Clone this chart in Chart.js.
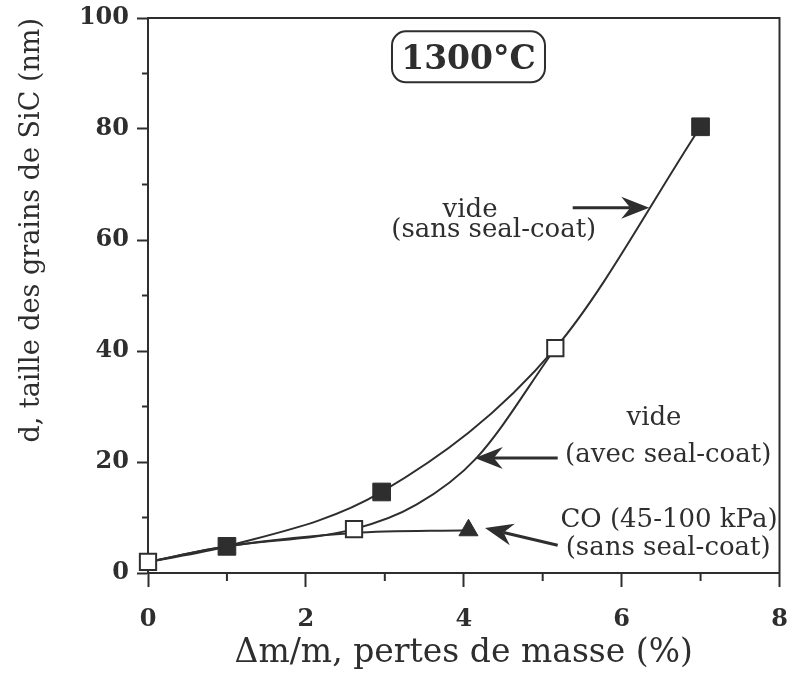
<!DOCTYPE html>
<html><head><meta charset="utf-8">
<script src="https://cdn.jsdelivr.net/npm/chart.js@4/dist/chart.umd.min.js"></script>
<style>html,body{margin:0;padding:0;background:#fff;}canvas{display:block;}</style>
</head><body>
<canvas id="c" width="793" height="674"></canvas>
<script>
// ---- data ----
const xTickLabels = ['0', '2', '4', '6', '8'];
const yTickLabels = ['0', '20', '40', '60', '80', '100'];
const xMinor = [1, 3, 5, 7];
const yMinor = [10, 30, 50, 70, 90];

// vide (sans seal-coat) : filled squares
const sansX = [0, 1, 2.96, 5.16, 7];
const sansY = [2, 4.8, 14.6, 40.5, 80.4];
const sansMark = [0, 1, 1, 0, 1];

// vide (avec seal-coat) : open squares (extra points)
const avecX = [0, 1, 2.61, 3.4, 4.16, 5.16];
const avecY = [2, 4.8, 7.9, 12.3, 20.7, 40.5];
const avecMark = [1, 0, 1, 0, 0, 1];

// CO (45-100 kPa) (sans seal-coat) : filled triangle
const coX = [0, 1, 2.6, 4.06];
const coY = [2, 4.8, 7.2, 7.7];
const coMark = [0, 0, 0, 1];

const INK = '#2e2e2e';
const SERIF = '"DejaVu Serif", "Liberation Serif", serif';

function pts(xs, ys) { return xs.map((x, i) => ({x: x, y: ys[i]})); }

function arrow(ctx, x0, y0, x1, y1) {
  const dx = x1 - x0, dy = y1 - y0, L = Math.hypot(dx, dy);
  const ux = dx / L, uy = dy / L, px = -uy, py = ux;
  const hl = 28, hw = 11, notch = 19;
  ctx.beginPath();
  ctx.lineWidth = 3;
  ctx.moveTo(x0, y0);
  ctx.lineTo(x1 - ux * notch, y1 - uy * notch);
  ctx.stroke();
  ctx.beginPath();
  ctx.moveTo(x1, y1);
  ctx.lineTo(x1 - ux * hl + px * hw, y1 - uy * hl + py * hw);
  ctx.lineTo(x1 - ux * notch, y1 - uy * notch);
  ctx.lineTo(x1 - ux * hl - px * hw, y1 - uy * hl - py * hw);
  ctx.closePath();
  ctx.fill();
}

const decor = {
  id: 'decor',
  afterDraw(chart) {
    const ctx = chart.ctx, a = chart.chartArea, xs = chart.scales.x, ys = chart.scales.y;
    const X = v => xs.getPixelForValue(v), Y = v => ys.getPixelForValue(v);
    ctx.save();
    ctx.strokeStyle = INK; ctx.fillStyle = INK; ctx.lineWidth = 2;
    // frame top/right
    ctx.beginPath();
    ctx.moveTo(a.left - 1, a.top); ctx.lineTo(a.right, a.top); ctx.lineTo(a.right, a.bottom + 1);
    ctx.stroke();
    // minor ticks
    ctx.beginPath();
    xMinor.forEach(v => { ctx.moveTo(X(v), a.bottom); ctx.lineTo(X(v), a.bottom + 8); });
    yMinor.forEach(v => { ctx.moveTo(a.left, Y(v)); ctx.lineTo(a.left - 6, Y(v)); });
    ctx.stroke();

    // 1300°C box
    const bx = X(4.06), by = Y(93.0), bw = 153, bh = 51;
    ctx.beginPath();
    ctx.roundRect(bx - bw / 2, by - bh / 2, bw, bh, 14);
    ctx.lineWidth = 2; ctx.stroke();
    ctx.font = 'bold 33px ' + SERIF;
    ctx.textAlign = 'center'; ctx.textBaseline = 'middle';
    ctx.fillText('1300°C', bx, Y(92.3));

    // annotations
    ctx.font = '26px ' + SERIF;
    ctx.textBaseline = 'alphabetic';
    ctx.fillText('vide', X(4.08), Y(64.1));
    ctx.fillText('(sans seal-coat)', X(4.38), Y(60.5));
    ctx.fillText('vide', X(6.41), Y(26.7));
    ctx.fillText('(avec seal-coat)', X(6.59), Y(20.0));
    ctx.fillText('CO (45-100 kPa)', X(6.60), Y(8.3));
    ctx.fillText('(sans seal-coat)', X(6.59), Y(3.2));

    arrow(ctx, X(5.38), Y(65.8), X(6.35), Y(65.8));
    arrow(ctx, X(5.19), Y(20.7), X(4.14), Y(20.7));
    arrow(ctx, X(5.19), Y(5.0), X(4.27), Y(8.1));
    ctx.restore();
  }
};

const tickFont = {family: SERIF, size: 24, weight: 'bold'};

new Chart(document.getElementById('c'), {
  type: 'scatter',
  data: {
    datasets: [
      {
        label: 'vide (avec seal-coat)', order: 0,
        data: pts(avecX, avecY), showLine: true, cubicInterpolationMode: 'monotone',
        borderColor: INK, borderWidth: 2, clip: false,
        pointStyle: 'rect', pointRadius: avecMark.map(m => m ? 11.5 : 0),
        pointBackgroundColor: '#fff', pointBorderColor: INK, pointBorderWidth: 2
      },
      {
        label: 'vide (sans seal-coat)', order: 1,
        data: pts(sansX, sansY), showLine: true, cubicInterpolationMode: 'monotone',
        borderColor: INK, borderWidth: 2, clip: false,
        pointStyle: 'rect', pointRadius: sansMark.map(m => m ? 12.5 : 0),
        pointBackgroundColor: INK, pointBorderColor: INK, pointBorderWidth: 1
      },
      {
        label: 'CO (45-100 kPa) (sans seal-coat)', order: 2,
        data: pts(coX, coY), showLine: true, cubicInterpolationMode: 'monotone',
        borderColor: INK, borderWidth: 2, clip: false,
        pointStyle: 'triangle', pointRadius: coMark.map(m => m ? 11 : 0),
        pointBackgroundColor: INK, pointBorderColor: INK, pointBorderWidth: 1
      }
    ]
  },
  options: {
    responsive: false, animation: false, devicePixelRatio: 1, events: [],
    layout: {padding: {left: 0, top: 18, right: 10, bottom: 0}},
    plugins: {legend: {display: false}, tooltip: {enabled: false}},
    scales: {
      x: {
        type: 'linear', min: 0, max: 8,
        afterFit: s => { s.height = 101; s.paddingLeft = 0; s.paddingRight = 0; },
        afterBuildTicks: s => { s.ticks = xTickLabels.map(t => ({value: Number(t)})); },
        ticks: {stepSize: 2, font: tickFont, color: INK, padding: 18, maxRotation: 0,
                callback: (v) => xTickLabels.find(t => Number(t) === v) ?? ''},
        grid: {drawOnChartArea: false, tickLength: 14, tickColor: INK, tickWidth: 2},
        border: {color: INK, width: 2},
        title: {display: true, text: 'Δm/m, pertes de masse (%)', color: INK,
                font: {family: SERIF, size: 33}, padding: {top: 0, bottom: 1}}
      },
      y: {
        type: 'linear', min: 0, max: 100,
        afterFit: s => { s.width = 148; s.paddingTop = 0; s.paddingBottom = 0; },
        afterBuildTicks: s => { s.ticks = yTickLabels.map(t => ({value: Number(t)})); },
        ticks: {stepSize: 20, font: tickFont, color: INK, padding: 8,
                callback: (v) => yTickLabels.find(t => Number(t) === v) ?? ''},
        grid: {drawOnChartArea: false, tickLength: 11, tickColor: INK, tickWidth: 2},
        border: {color: INK, width: 2},
        title: {display: true, align: 'end', text: 'd, taille des grains de SiC (nm)', color: INK,
                font: {family: SERIF, size: 27}, padding: {top: 16, bottom: 0}}
      }
    }
  },
  plugins: [decor]
});
</script>
</body></html>
